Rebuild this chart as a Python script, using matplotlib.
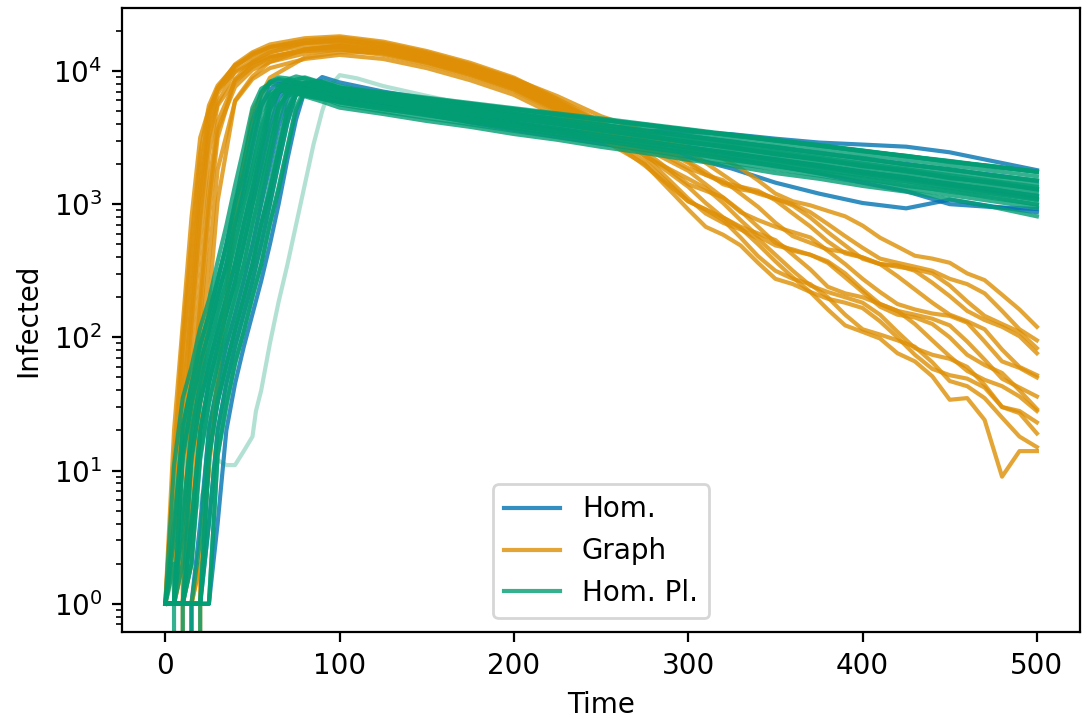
import numpy as np
import matplotlib
matplotlib.use("Agg")
import matplotlib.pyplot as plt

# Stochastic runs (number infected over time)
hom_time = [0, 5, 10, 15, 20, 25, 30, 35, 40, 45, 50, 55, 60, 65, 70, 75, 80, 90, 100,
            125, 150, 175, 200, 225, 250, 275, 300, 325, 350, 375, 400, 425, 450, 475, 500]

hom_runs = [
    [1, 4, 20, 45, 85, 150, 265, 500, 1000, 2040, 4080, 6730, 8110, 8500, 8220, 7960, 7700, 7340, 7000,
     6380, 5740, 5270, 4740, 4350, 3910, 3580, 3220, 2960, 2650, 2440, 2190, 2010, 1810, 1660, 1490],
    [1, 1, 1, 13, 32, 63, 112, 200, 355, 710, 1280, 2570, 5110, 6910, 7600, 7350, 7100, 6640, 6200,
     5550, 5040, 4500, 4080, 3640, 3320, 2940, 2690, 2380, 2180, 1940, 1760, 1570, 1430, 1270, 1160],
    [1, 1, 1, 1, 4, 20, 45, 85, 150, 265, 500, 1000, 1920, 3840, 6340, 7630, 8000, 7280, 6600,
     5990, 5380, 4900, 4390, 4000, 3570, 3260, 2910, 2670, 2380, 2170, 1940, 1780, 1580, 1450, 1290],
    [1, 1, 1, 1, 1, 1, 4, 20, 45, 85, 150, 265, 500, 1000, 2160, 4320, 7130, 9000, 8200,
     7000, 6180, 5650, 5160, 4710, 4310, 3940, 3600, 3290, 3010, 2750, 2510, 2290, 2090, 1910, 1750],
    [1, 1, 1, 1, 1, 4, 20, 45, 85, 150, 265, 500, 1000, 2040, 4080, 6730, 8110, 8300, 7500,
     6600, 5900, 5300, 4800, 4350, 3950, 3550, 3500, 3350, 3100, 2900, 2800, 2700, 2450, 2100, 1800],
    [1, 1, 1, 4, 20, 45, 85, 150, 265, 500, 1000, 1900, 3800, 6270, 7550, 7600, 7300, 6700, 6100,
     5400, 4700, 4100, 3600, 3200, 2850, 2550, 2250, 1850, 1450, 1200, 1020, 930, 1080, 960, 870],
    [1, 1, 13, 32, 63, 112, 200, 355, 710, 1350, 2710, 5400, 7290, 8000, 7800, 7600, 7400, 7000, 6700,
     5900, 5150, 4600, 4100, 3700, 3300, 2950, 2650, 2380, 2130, 1900, 1700, 1530, 1380, 1230, 1100],
    [1, 1, 1, 1, 1, 13, 32, 63, 112, 200, 355, 710, 1280, 2570, 5110, 6910, 7600, 7100, 6500,
     5700, 5000, 4400, 3900, 3450, 3050, 2700, 2450, 2200, 1950, 1700, 1450, 1250, 1000, 950, 920],
]

hom_pl_runs = [
    [1, 11, 35, 60, 118, 190, 370, 690, 1380, 2650, 5300, 7350, 8000, 7850, 7600, 7480, 7230, 6950, 6600,
     6050, 5350, 4900, 4380, 4020, 3560, 3270, 2900, 2680, 2370, 2180, 1930, 1790, 1570, 1460, 1300],
    [1, 3, 22, 43, 90, 145, 275, 480, 1030, 1700, 3500, 5650, 6900, 7250, 6950, 6850, 6550, 6200, 5800,
     5150, 4700, 4130, 3760, 3320, 3020, 2660, 2430, 2140, 1950, 1710, 1560, 1370, 1260, 1110, 1000],
    [1, 1, 14, 30, 66, 108, 210, 340, 730, 1480, 3100, 6000, 8250, 8950, 8800, 8450, 8300, 7800, 7400,
     6800, 6150, 5680, 5130, 4740, 4280, 3970, 3570, 3310, 2990, 2770, 2490, 2310, 2070, 1930, 1740],
    [1, 1, 5, 18, 47, 82, 155, 260, 520, 980, 1850, 3600, 6050, 7200, 7650, 7300, 7120, 6600, 6200,
     5600, 4990, 4550, 4040, 3680, 3280, 2980, 2650, 2420, 2150, 1960, 1740, 1590, 1410, 1290, 1150],
    [1, 1, 2, 12, 34, 60, 118, 195, 365, 700, 1460, 2850, 5800, 7700, 8550, 8200, 7990, 7430, 7000,
     6320, 5800, 5220, 4780, 4310, 3950, 3540, 3260, 2920, 2690, 2410, 2220, 1980, 1830, 1640, 1500],
    [1, 1, 1, 4, 19, 47, 82, 155, 255, 510, 980, 1660, 3250, 5450, 6500, 6820, 6450, 5880, 5300,
     4750, 4210, 3800, 3360, 3040, 2690, 2420, 2150, 1940, 1710, 1550, 1370, 1240, 1090, 950, 810],
    [1, 1, 1, 2, 12, 33, 61, 115, 195, 360, 700, 1370, 2680, 5450, 7250, 8050, 7680, 7150, 6600,
     5950, 5420, 4860, 4430, 3960, 3610, 3220, 2950, 2630, 2400, 2150, 1960, 1760, 1600, 1430, 1310],
    [1, 1, 1, 1, 3, 21, 44, 88, 148, 270, 490, 1020, 2140, 4350, 7100, 8600, 8950, 8150, 7400,
     6740, 6200, 5630, 5180, 4690, 4330, 3920, 3620, 3270, 3020, 2740, 2520, 2280, 2100, 1900, 1760],
    [1, 1, 1, 1, 1, 12, 34, 61, 115, 196, 360, 700, 1240, 2420, 4900, 6550, 7220, 6450, 5800,
     5200, 4640, 4190, 3710, 3360, 2990, 2700, 2400, 2170, 1920, 1740, 1540, 1400, 1240, 1130, 990],
    [1, 1, 1, 1, 1, 4, 20, 45, 85, 150, 265, 500, 1000, 2040, 4080, 6730, 8110, 8400, 7700,
     6620, 5790, 5230, 4770, 4320, 3940, 3550, 3250, 2930, 2680, 2420, 2210, 1990, 1830, 1640, 1510],
    [1, 1, 1, 1, 1, 1, 13, 32, 63, 112, 200, 355, 710, 1280, 2570, 5110, 6910, 7500, 7000,
     5900, 5030, 4530, 4050, 3670, 3290, 2970, 2660, 2410, 2150, 1960, 1740, 1590, 1410, 1290, 1140],
    [1, 1, 12, 33, 60, 115, 190, 360, 690, 1220, 2440, 4860, 6570, 7200, 7000, 6800, 6550, 6150, 5900,
     5350, 4820, 4330, 3880, 3500, 3130, 2820, 2540, 2270, 2040, 1830, 1650, 1480, 1330, 1200, 1080],
    [1, 1, 1, 4, 20, 45, 85, 150, 265, 500, 1000, 2160, 4320, 7130, 8590, 9100, 8800, 8100, 7500,
     6900, 6300, 5750, 5250, 4800, 4400, 4000, 3650, 3330, 3050, 2780, 2530, 2300, 2110, 1920, 1760],
    [1, 4, 20, 45, 85, 150, 265, 500, 1000, 2100, 4200, 6900, 8300, 8700, 8450, 8200, 7950, 7550, 7200,
     6550, 6000, 5450, 4980, 4520, 4130, 3750, 3420, 3120, 2840, 2590, 2360, 2150, 1960, 1780, 1620],
    [1, 1, 4, 21, 44, 86, 148, 268, 495, 1010, 1900, 3800, 6300, 7500, 7800, 7550, 7300, 6850, 6400,
     5780, 5210, 4700, 4240, 3830, 3450, 3110, 2810, 2530, 2280, 2060, 1860, 1680, 1510, 1360, 1230],
    [1, 1, 1, 2, 13, 31, 64, 110, 205, 350, 720, 1330, 2600, 5100, 6900, 7300, 6900, 6250, 5600,
     4950, 4430, 3970, 3550, 3180, 2840, 2550, 2280, 2040, 1830, 1640, 1460, 1310, 1170, 1050, 940],
    [1, 1, 1, 1, 1, 13, 33, 62, 114, 198, 352, 705, 1400, 2800, 5550, 7500, 8200, 7600, 6900,
     6200, 5600, 5080, 4600, 4160, 3770, 3410, 3090, 2800, 2540, 2300, 2080, 1880, 1710, 1550, 1400],
    [1, 1, 1, 13, 32, 64, 110, 202, 352, 712, 1330, 2650, 5300, 7100, 7500, 7200, 6900, 6400, 6000,
     5380, 4840, 4350, 3900, 3500, 3150, 2830, 2540, 2280, 2050, 1840, 1650, 1490, 1330, 1200, 1070],
    [1, 1, 1, 1, 1, 1, 13, 30, 65, 110, 205, 350, 720, 1350, 2700, 5400, 7300, 8000, 7300,
     6300, 5500, 5000, 4540, 4100, 3720, 3350, 3030, 2740, 2480, 2240, 2020, 1830, 1650, 1490, 1350],
]

# one late Hom. Pl. run, drawn faint in the reference
late_time = [0, 10, 20, 25, 30, 35, 40, 45, 50, 52, 55, 60, 65, 70, 75, 80, 85, 90, 95, 100,
             110, 125, 150, 200, 250, 300, 350, 400, 450, 500]
late_run = [1, 3, 6, 9, 12, 11, 11, 14, 18, 28, 40, 90, 185, 350, 700, 1400, 2800, 5000, 7800, 9300,
            8800, 7700, 6500, 4700, 3600, 2900, 2300, 1900, 1500, 1250]

graph_time = [0, 5, 10, 15, 20, 25, 30, 40, 50, 60, 80, 100, 125, 150, 175, 200, 225, 250, 275,
              300, 310, 320, 330, 340, 350, 360, 370, 380, 390, 400, 410, 420, 430, 440, 450,
              460, 470, 480, 490, 500]

graph_runs = [
    [1, 1, 1, 1, 2, 10, 50, 800, 5000, 8900, 12600, 13800,
     13800, 12600, 10700, 8700, 6460, 4570, 3550,
     2630, 2400, 2190, 1860, 1510, 1200, 1050, 980, 890, 810, 690, 560, 480, 410, 390, 363, 302, 269, 209, 162, 120],
    [1, 1, 1, 2, 32, 180, 1050, 6000, 9100, 11700, 14500, 15500,
     14500, 12300, 10000, 7760, 5370, 3980, 3310,
     2510, 2040, 1660, 1350, 1200, 1100, 1000, 870, 710, 575, 470, 390, 363, 339, 316, 275, 251, 214, 158, 115, 95],
    [1, 1, 1, 20, 126, 790, 3160, 8700, 11700, 13800, 16200, 17200,
     15800, 13500, 11000, 8500, 5900, 3980, 3020,
     2040, 1660, 1450, 1350, 1260, 1070, 850, 680, 525, 427, 398, 355, 347, 316, 257, 204, 158, 135, 120, 102, 76],
    [1, 1, 13, 100, 540, 2400, 5500, 8500, 11000, 12600, 14500, 15100,
     13800, 11700, 9550, 7410, 5130, 3470, 2820,
     1860, 1660, 1510, 1200, 955, 725, 575, 513, 457, 437, 398, 355, 288, 229, 182, 148, 132, 115, 81, 60, 52],
    [1, 3, 50, 250, 1380, 4170, 7410, 11200, 13800, 15800, 17600, 18200,
     16600, 14100, 11500, 8910, 6170, 4170, 2630,
     1780, 1410, 1120, 870, 760, 676, 617, 562, 447, 355, 275, 219, 178, 162, 151, 145, 129, 93, 66, 59, 50],
    [1, 13, 100, 540, 2400, 5500, 7760, 10960, 12900, 14800, 16200, 16600,
     15100, 12900, 10500, 8130, 5620, 3800, 2500,
     1410, 1260, 1120, 890, 676, 513, 447, 417, 372, 302, 229, 178, 158, 148, 138, 123, 93, 68, 49, 42, 36],
    [1, 20, 126, 790, 3160, 5130, 7240, 9770, 11500, 12900, 14100, 14500,
     13200, 11200, 9120, 7080, 4900, 3310, 2350,
     1350, 1020, 794, 676, 603, 537, 417, 324, 240, 214, 200, 178, 158, 126, 95, 72, 56, 48, 43, 36, 28],
    [1, 2, 32, 180, 1050, 3630, 6760, 10700, 13500, 15100, 17000, 17800,
     16200, 13800, 11200, 8710, 6030, 4070, 2300,
     1100, 851, 724, 646, 550, 417, 316, 245, 219, 200, 182, 148, 110, 83, 74, 69, 60, 44, 30, 28, 23],
    [1, 1, 3, 50, 250, 1380, 4170, 8300, 10700, 12600, 14500, 15500,
     14100, 12000, 9770, 7590, 5250, 3550, 2100,
     1050, 912, 759, 562, 407, 316, 275, 251, 200, 148, 115, 105, 95, 85, 65, 47, 43, 35, 25, 18, 15],
    [1, 1, 1, 7, 80, 370, 1820, 5900, 8700, 10500, 12300, 13200,
     12300, 10500, 8510, 6610, 4570, 3090, 2000,
     912, 676, 589, 490, 363, 275, 251, 219, 162, 123, 110, 98, 76, 66, 51, 34, 35, 24, 9, 14, 14],
    [1, 1, 20, 126, 790, 3160, 5750, 10000, 12000, 13800, 15500, 16200,
     14800, 12600, 10200, 7940, 5500, 3720, 3160,
     2090, 1740, 1410, 1290, 1230, 1100, 977, 794, 617, 490, 389, 355, 339, 324, 302, 245, 186, 145, 126, 110, 83],
    [1, 7, 80, 370, 1820, 4790, 7410, 11000, 13200, 15100, 16600, 17000,
     15500, 13200, 10700, 8320, 5750, 3890, 2290,
     1550, 1320, 1020, 759, 575, 490, 457, 417, 363, 282, 219, 170, 148, 141, 126, 100, 74, 62, 54, 40, 29],
    [1, 1, 2, 32, 178, 1050, 3630, 7590, 10200, 11700, 13500, 14500,
     13500, 11500, 9330, 7240, 5010, 3390, 1950,
     1050, 912, 794, 661, 501, 372, 282, 219, 195, 182, 166, 132, 100, 74, 58, 52, 49, 42, 30, 27, 19],
]

# runs where the infection died out early (0 infected -> off the log axis)
die_time = [0, 5, 10, 15, 20, 25]
hom_dieouts = [[1, 1, 1, 1, 0, 0]]
graph_dieouts = [[1, 1, 2, 0, 0, 0], [1, 1, 1, 1, 2, 0]]
hom_pl_dieouts = [[1, 2, 0, 0, 0, 0], [1, 1, 1, 0, 0, 0], [1, 1, 1, 1, 0, 0], [1, 1, 1, 1, 1, 0]]

labels = ['Hom.', 'Graph', 'Hom. Pl.']
colors = ['#0173b2', '#de8f05', '#029e73']

plt.rcParams['font.size'] = 10
fig, ax = plt.subplots(figsize=(5.435, 3.6), dpi=200)
fig.subplots_adjust(left=0.112, right=0.994, bottom=0.122, top=0.989)
ax.set_yscale('log')

groups = [(hom_time, hom_runs, hom_dieouts),
          (graph_time, graph_runs, graph_dieouts),
          (hom_time, hom_pl_runs, hom_pl_dieouts)]

for (t, runs, dies), label, c in zip(groups, labels, colors):
    for i, run in enumerate(runs):
        ax.plot(t, run, color=c, alpha=0.8, lw=1.5, label=label if i == 0 else None)
    for run in dies:
        ax.plot(die_time, run, color=c, alpha=0.8, lw=1.5)
    if label == 'Hom. Pl.':
        ax.plot(late_time, late_run, color=c, alpha=0.3, lw=1.5)

ax.set_xlabel('Time')
ax.set_ylabel('Infected')
ax.legend(loc='lower center')

fig.savefig('out.png', dpi=200)
